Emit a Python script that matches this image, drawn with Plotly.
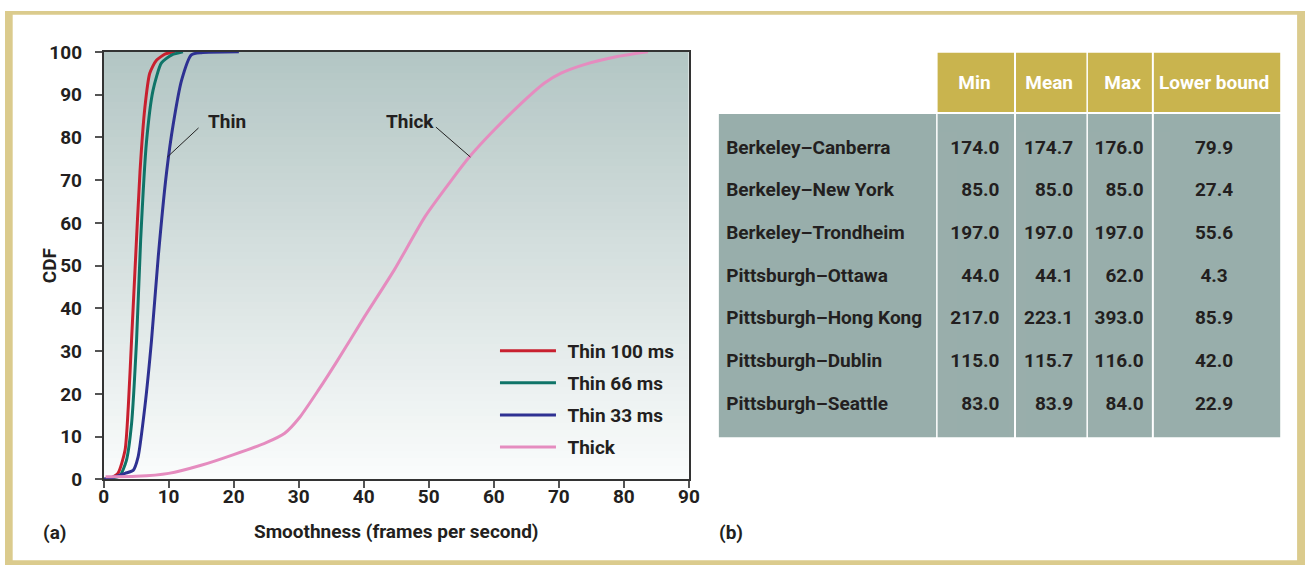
import plotly.graph_objects as go

# ---------------- data ----------------
x_thin100 = [0, 1.0, 2.2, 3.3, 3.8, 4.3, 4.8, 5.6, 6.35, 7.1, 8.1, 9.5, 11.0]
y_thin100 = [0, 0.3, 1.4, 6.8, 17, 32.5, 48, 72, 87, 95, 98, 99.5, 100]

x_thin66 = [0, 1.2, 2.5, 3.5, 4.3, 5.07, 5.7, 6.6, 7.6, 8.9, 10.5, 12.2]
y_thin66 = [0, 0.3, 0.8, 4.4, 13, 32.5, 56, 79, 91, 97.4, 99.3, 100]

x_thin33 = [0, 1.5, 3.3, 4.55, 5.3, 6.35, 7.37, 8.4, 9.7, 10.7, 12.0, 13.5, 15.0, 20.8]
y_thin33 = [0, 0.5, 1.4, 2.1, 5.2, 17, 32.5, 52, 72, 83, 93.4, 99.3, 99.8, 100]

x_thick = [0.3, 5, 10, 15, 20, 25, 27.85, 30.2, 33, 36, 40.1, 44.7, 49.4, 53.5,
           56.3, 59.6, 63.7, 67.8, 70.35, 73.9, 79, 83.7]
y_thick = [0.6, 0.7, 1.4, 3.3, 5.8, 8.6, 10.8, 14.6, 20.8, 27.9, 38, 49, 61.4, 70,
           75.5, 81, 87.2, 92.7, 95, 97, 98.9, 100]

series_names = ["Thin 100 ms", "Thin 66 ms", "Thin 33 ms", "Thick"]

x_ticks = [0, 10, 20, 30, 40, 50, 60, 70, 80, 90]
y_ticks = [0, 10, 20, 30, 40, 50, 60, 70, 80, 90, 100]

table_headers = ["", "Min", "Mean", "Max", "Lower bound"]
routes = ["Berkeley–Canberra", "Berkeley–New York", "Berkeley–Trondheim",
          "Pittsburgh–Ottawa", "Pittsburgh–Hong Kong", "Pittsburgh–Dublin",
          "Pittsburgh–Seattle"]
mins = [174.0, 85.0, 197.0, 44.0, 217.0, 115.0, 83.0]
means = [174.7, 85.0, 197.0, 44.1, 223.1, 115.7, 83.9]
maxs = [176.0, 85.0, 197.0, 62.0, 393.0, 116.0, 84.0]
lower_bound = [79.9, 27.4, 55.6, 4.3, 85.9, 42.0, 22.9]

# ---------------- style ----------------
W, H = 1316, 577
FONT = "Roboto, Liberation Sans, sans-serif"
TXT = "#231f20"
FS = 19
colors = ["#c8202f", "#0f7468", "#2e3192", "#e58cbf"]
GOLD = "#c9b44e"
GRAY = "#98aeab"
TAN = "#dbcb8d"
transparent = "rgba(0,0,0,0)"


# layout positions are given in picture pixels and converted to page pixels
def X(r):
    return (r - 3.3) / 0.989


def Y(r):
    return (r - 11.2) / 0.959


def px(x):
    return x / W


def py(y):
    return 1 - y / H


fig = go.Figure()

# gradient plot background (heatmap through the axes)
bands = 60
fig.add_trace(go.Heatmap(
    x=[0, 90],
    y=[100 * i / bands for i in range(bands + 1)],
    z=[[i] for i in range(bands)],
    colorscale=[[0, "#fafcfc"], [0.5, "#d7e1e0"], [1, "#b3c6c4"]],
    showscale=False, hoverinfo="skip", showlegend=False,
))

for name, xs, ys, c in zip(series_names,
                           [x_thin100, x_thin66, x_thin33, x_thick],
                           [y_thin100, y_thin66, y_thin33, y_thick], colors):
    fig.add_trace(go.Scatter(
        x=xs, y=ys, mode="lines", name="\u2004" + name, legendgroup=name,
        line=dict(color=c, width=3, shape="spline", smoothing=0.6),
    ))

axis_font = dict(family=FONT, size=FS, color=TXT, weight="bold")

fig.update_xaxes(
    domain=[px(X(102)), px(X(688))], range=[0, 90], tickvals=x_ticks,
    ticks="outside", ticklen=7, tickwidth=1.5, tickcolor="#555",
    showline=True, linecolor="#333", linewidth=1.5, mirror=True,
    showgrid=False, zeroline=False, tickfont=axis_font, ticklabelstandoff=-8,
    title=dict(text="Smoothness (frames per second)", font=axis_font, standoff=18),
)
fig.update_yaxes(
    domain=[py(Y(479)), py(Y(52))], range=[0, 100], tickvals=y_ticks,
    ticks="outside", ticklen=7, tickwidth=1.5, tickcolor="#555",
    showline=True, linecolor="#333", linewidth=1.5, mirror=True,
    showgrid=False, zeroline=False, tickfont=axis_font, ticklabelstandoff=9,
)

# y-axis title
fig.add_annotation(xref="paper", yref="paper", x=px(X(48)), y=py(Y(265.5)), text="CDF",
                   textangle=-90, xanchor="center", yanchor="middle",
                   showarrow=False, font=axis_font)

# curve labels with leader lines
fig.add_annotation(x=18.9, y=83.6, text="Thin", showarrow=False, font=axis_font)
fig.add_annotation(x=47.1, y=83.6, text="Thick", showarrow=False, font=axis_font)
fig.add_shape(type="line", xref="x", yref="y", x0=14.6, y0=82.2, x1=9.8, y1=75.4,
              line=dict(color="#222", width=1))
fig.add_shape(type="line", xref="x", yref="y", x0=51.1, y0=82.4, x1=56.4, y1=75.4,
              line=dict(color="#222", width=1))

# panel labels
fig.add_annotation(xref="paper", yref="paper", x=px(X(53)), y=py(Y(532)), text="(a)",
                   xanchor="center", yanchor="middle", showarrow=False, font=axis_font)
fig.add_annotation(xref="paper", yref="paper", x=px(X(730)), y=py(Y(532)), text="(b)",
                   xanchor="center", yanchor="middle", showarrow=False, font=axis_font)

# outer tan frame (four bands)
for x0, x1, y0, y1 in [(0, X(11), 0, H), (0, W, 0, 4), (W - 8, W, 0, H), (0, W, H - 5, H)]:
    fig.add_shape(type="rect", xref="paper", yref="paper",
                  x0=px(max(x0, 0)), x1=px(min(x1, W)), y0=py(y1), y1=py(y0),
                  fillcolor=TAN, line=dict(width=0))

# ---------------- table (b) ----------------
col_edges = [(718, 935.5), (937, 1013.5), (1015.5, 1086), (1087.5, 1151.5), (1153.5, 1280)]
head_top, head_bot, body_top, body_bot = 53, 112, 114, 437

for j, (a, b) in enumerate(col_edges):
    if j > 0:
        fig.add_shape(type="rect", xref="paper", yref="paper", layer="below",
                      x0=px(X(a)), x1=px(X(b)), y0=py(Y(head_bot)), y1=py(Y(head_top)),
                      fillcolor=GOLD, line=dict(width=0))
    fig.add_shape(type="rect", xref="paper", yref="paper", layer="below",
                  x0=px(X(a)), x1=px(X(b)), y0=py(Y(body_bot)), y1=py(Y(body_top)),
                  fillcolor=GRAY, line=dict(width=0))

cell_font = dict(family=FONT, size=FS, color=TXT, weight="bold")
head_font = dict(family=FONT, size=FS, color="white", weight="bold")

body_cols = [routes,
             [f"{v:.1f}" for v in mins],
             [f"{v:.1f}" for v in means],
             [f"{v:.1f}" for v in maxs],
             [f"{v:.1f}" for v in lower_bound]]
text_dom = [(722, 944), (948, 1015), (1024.6, 1090), (1102, 1161), (1146, 1302)]
aligns = ["left", "right", "right", "right", "center"]
for j, (a, b) in enumerate(text_dom):
    fig.add_trace(go.Table(
        domain=dict(x=[px(a), px(b)], y=[py(Y(body_bot)), py(58.3)]),
        header=dict(values=[table_headers[j]], height=64.3, align="center",
                    fill_color=transparent, line=dict(color=transparent, width=0),
                    font=head_font),
        cells=dict(values=[body_cols[j]], height=42.7, align=aligns[j],
                   fill_color=transparent, line=dict(color=transparent, width=0),
                   font=cell_font),
    ))

fig.update_layout(
    width=W, height=H, margin=dict(l=0, r=0, t=0, b=0),
    paper_bgcolor="white", plot_bgcolor="white",
    font=dict(family=FONT, color=TXT),
    showlegend=True,
    legend=dict(x=px(496), y=py(334.2), xanchor="left", yanchor="top",
                bgcolor=transparent, itemwidth=56, tracegroupgap=4.4,
                font=dict(family=FONT, size=FS, color=TXT, weight="bold")),
)

fig.write_html("out.html", config={"displayModeBar": False},
               post_script="document.body.style.margin='0';document.documentElement.style.overflow='hidden';")
